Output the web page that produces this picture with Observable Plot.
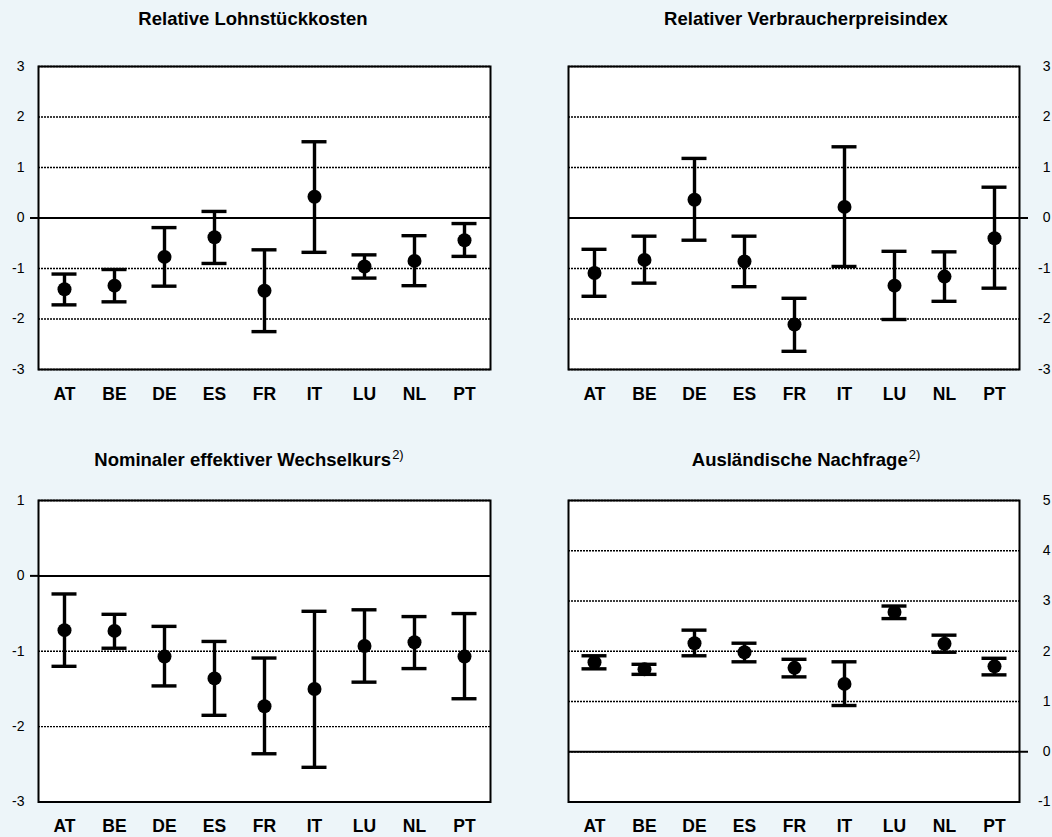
<!DOCTYPE html>
<html><head><meta charset="utf-8">
<script src="https://cdn.jsdelivr.net/npm/d3@7"></script>
<script src="https://cdn.jsdelivr.net/npm/@observablehq/plot@0.6"></script>
<style>
html,body{margin:0;padding:0;background:#edf5f9;overflow:hidden}
#root{position:relative;width:1052px;height:837px;background:#edf5f9;font-family:"Liberation Sans",Arial,sans-serif;overflow:hidden}
.title{position:absolute;width:500px;text-align:center;font-weight:bold;font-size:18.5px;line-height:1;color:#000;white-space:nowrap}
.title .sup{font-weight:normal;font-size:13px;position:relative;top:-7px;margin-left:1px}
.panel{position:absolute}
</style></head><body><div id="root"></div>
<script>
const categories = ["AT","BE","DE","ES","FR","IT","LU","NL","PT"];

// Relative Lohnstückkosten
const lohnMid = [-1.41,-1.34,-0.77,-0.38,-1.44,0.42,-0.96,-0.85,-0.44];
const lohnLo  = [-1.72,-1.66,-1.35,-0.90,-2.25,-0.68,-1.19,-1.34,-0.76];
const lohnHi  = [-1.11,-1.02,-0.19,0.13,-0.63,1.51,-0.73,-0.35,-0.11];
const lohnTicks = [-3,-2,-1,0,1,2,3];

// Relativer Verbraucherpreisindex
const vpiMid = [-1.09,-0.83,0.36,-0.86,-2.11,0.22,-1.34,-1.16,-0.40];
const vpiLo  = [-1.55,-1.29,-0.44,-1.36,-2.64,-0.96,-2.01,-1.65,-1.39];
const vpiHi  = [-0.62,-0.36,1.18,-0.36,-1.59,1.41,-0.66,-0.67,0.61];
const vpiTicks = [-3,-2,-1,0,1,2,3];

// Nominaler effektiver Wechselkurs
const wkMid = [-0.72,-0.73,-1.07,-1.36,-1.73,-1.50,-0.93,-0.88,-1.07];
const wkLo  = [-1.20,-0.96,-1.46,-1.85,-2.36,-2.54,-1.41,-1.23,-1.63];
const wkHi  = [-0.24,-0.51,-0.67,-0.87,-1.09,-0.47,-0.45,-0.54,-0.50];
const wkTicks = [-3,-2,-1,0,1];

// Ausländische Nachfrage
const nfMid = [1.78,1.64,2.16,1.98,1.67,1.35,2.78,2.15,1.70];
const nfLo  = [1.65,1.54,1.91,1.79,1.49,0.92,2.65,1.98,1.53];
const nfHi  = [1.91,1.74,2.42,2.16,1.84,1.79,2.90,2.32,1.86];
const nfTicks = [-1,0,1,2,3,4,5];

const titles = [
  {text:"Relative Lohnstückkosten", sup:null, cx:253, top:10},
  {text:"Relativer Verbraucherpreisindex", sup:null, cx:806, top:10},
  {text:"Nominaler effektiver Wechselkurs", sup:"2)", cx:249, top:451},
  {text:"Ausländische Nachfrage", sup:"2)", cx:806, top:451}
];

const root = document.getElementById("root");
for (const t of titles) {
  const d = document.createElement("div");
  d.className = "title";
  d.style.left = (t.cx - 250) + "px";
  d.style.top = t.top + "px";
  d.textContent = t.text;
  if (t.sup) {
    const s = document.createElement("span");
    s.className = "sup";
    s.textContent = t.sup;
    d.appendChild(s);
  }
  root.appendChild(d);
}

function panel({mid, lo, hi, ticks, side, left, top, width, height, mt, mb, ml, mr}) {
  const data = categories.map((c, i) => ({c, mid: mid[i], lo: lo[i], hi: hi[i]}));
  const domain = [ticks[0], ticks[ticks.length - 1]];
  const right = side === "right";
  const chart = Plot.plot({
    width, height,
    marginTop: mt, marginBottom: mb, marginLeft: ml, marginRight: mr,
    style: {background: "transparent", fontFamily: '"Liberation Sans", Arial, sans-serif', fontSize: "14px", color: "black", overflow: "visible"},
    x: {type: "band", domain: categories, padding: 0, label: null},
    y: {domain, label: null},
    marks: [
      Plot.frame({fill: "white"}),
      Plot.gridY(ticks, {stroke: "black", strokeOpacity: 1, strokeWidth: 1.3, strokeDasharray: "2,1"}),
      Plot.ruleY([0], {stroke: "black", strokeWidth: 2}),
      Plot.axisY({anchor: side, ticks, tickSize: 0, tickPadding: right ? 31 : 14,
                  textAnchor: "end", fontSize: 14, tickFormat: (d) => String(d)}),
      Plot.axisY({anchor: side, ticks: [0], tickSize: 8, tickFormat: () => "", strokeWidth: 2}),
      Plot.axisX({tickSize: 0, tickPadding: 18, fontSize: 17.5, fontWeight: "bold"}),
      Plot.ruleX(data, {x: "c", y1: "lo", y2: "hi", stroke: "black", strokeWidth: 3.4}),
      Plot.tickY(data, {x: "c", y: "hi", stroke: "black", strokeWidth: 3.4, insetLeft: 12.5, insetRight: 12.5}),
      Plot.tickY(data, {x: "c", y: "lo", stroke: "black", strokeWidth: 3.4, insetLeft: 12.5, insetRight: 12.5}),
      Plot.dot(data, {x: "c", y: "mid", r: 7, fill: "black"}),
      Plot.frame({stroke: "black", strokeWidth: 2})
    ]
  });
  chart.classList.add("panel");
  chart.style.left = left + "px";
  chart.style.top = top + "px";
  root.appendChild(chart);
}

panel({mid: lohnMid, lo: lohnLo, hi: lohnHi, ticks: lohnTicks, side: "left",
       left: 0, top: 40, width: 526, height: 390, mt: 26, mb: 61, ml: 38, mr: 36});
panel({mid: vpiMid, lo: vpiLo, hi: vpiHi, ticks: vpiTicks, side: "right",
       left: 526, top: 40, width: 526, height: 390, mt: 26, mb: 61, ml: 42, mr: 33});
panel({mid: wkMid, lo: wkLo, hi: wkHi, ticks: wkTicks, side: "left",
       left: 0, top: 470, width: 526, height: 367, mt: 30, mb: 35.5, ml: 38, mr: 36});
panel({mid: nfMid, lo: nfLo, hi: nfHi, ticks: nfTicks, side: "right",
       left: 526, top: 470, width: 526, height: 367, mt: 30, mb: 35.5, ml: 42, mr: 33});
</script></body></html>
